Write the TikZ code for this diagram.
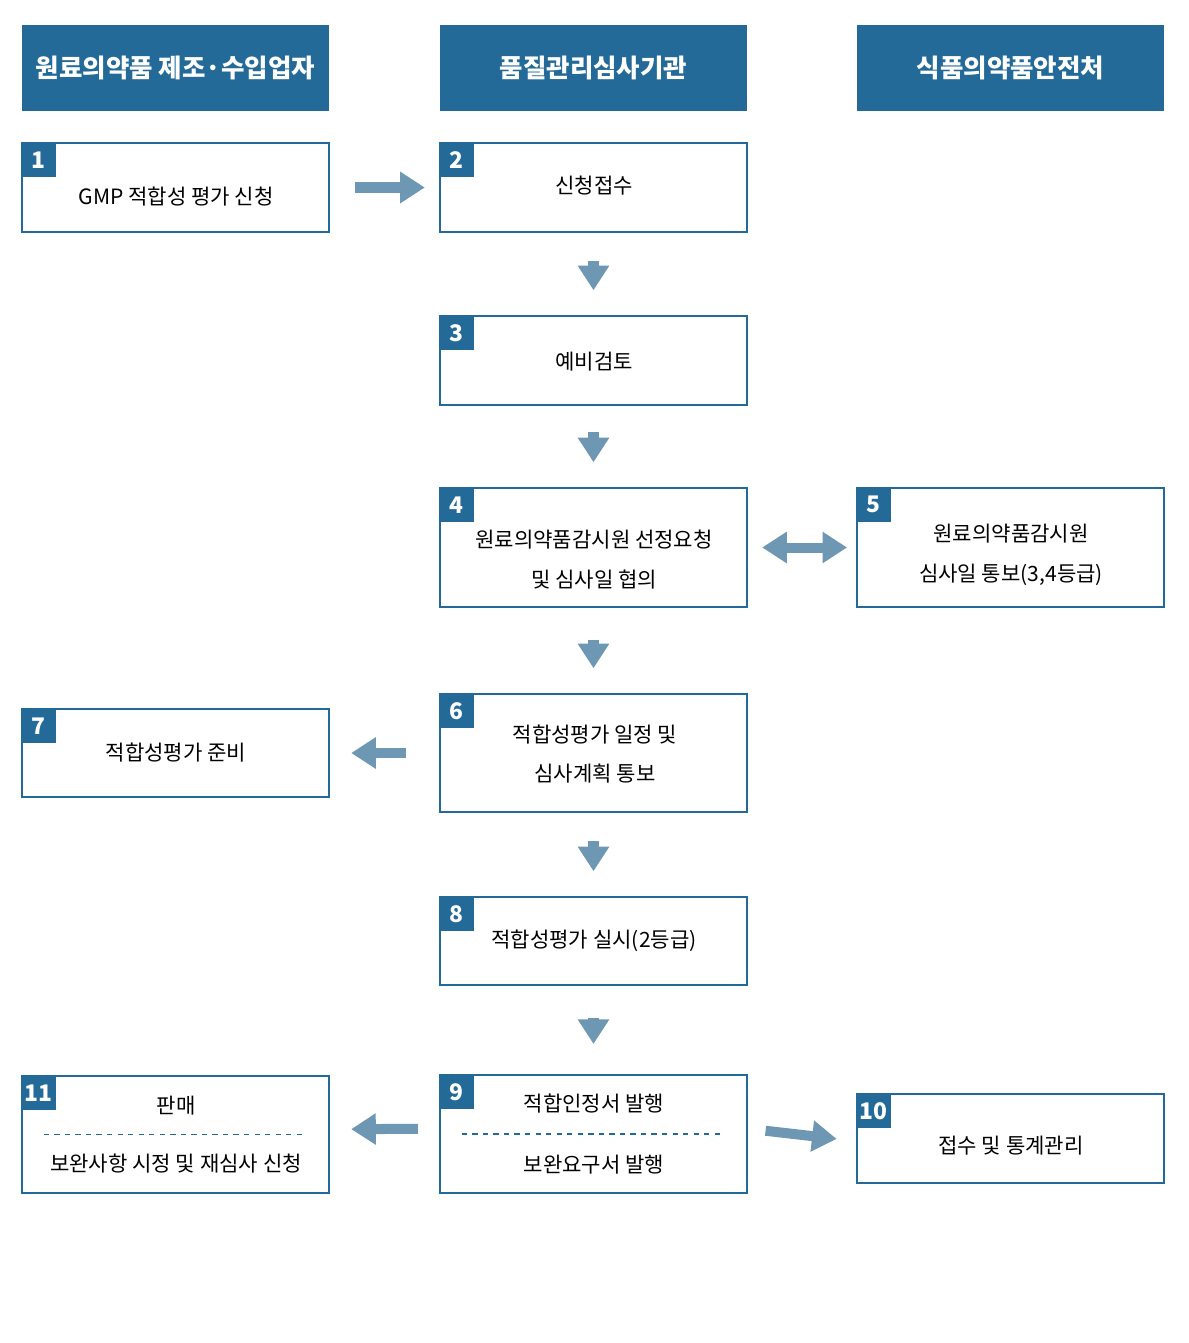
\documentclass[tikz,border=0pt]{standalone}
\usepackage{fontspec}
\setmainfont{Noto Sans CJK KR}
\usetikzlibrary{arrows.meta}
\definecolor{hdblue}{HTML}{236A98}
\definecolor{arblue}{HTML}{6D97B3}
\tikzset{
  head/.style={fill=hdblue, text=white, minimum width=6.14cm, minimum height=1.72cm, font=\bfseries\fontsize{14.5}{18}\selectfont},
  box/.style={draw=hdblue, line width=1.3pt, minimum width=6.14cm},
  tab/.style={fill=hdblue, text=white, minimum size=0.7cm, inner sep=0pt, anchor=north west, font=\bfseries\fontsize{13}{16}\selectfont},
  txt/.style={align=center, font=\fontsize{12}{22.7}\selectfont},
  arr/.style={draw=arblue, line width=5.7pt, -{Triangle[length=14pt,width=17pt]}},
  dsh/.style={draw=hdblue, dashed, line width=0.7pt}
}
\begin{document}
\begin{tikzpicture}[x=0.02cm, y=-0.02cm]
  \useasboundingbox (0,0) rectangle (1189,1343);

  % headers
  \node[head] (h1) at (175.5,68) {원료의약품 제조·수입업자};
  \node[head] (h2) at (593.5,68) {품질관리심사기관};
  \node[head] (h3) at (1010.5,68) {식품의약품안전처};

  % boxes
  \node[box, minimum height=1.78cm] (b1) at (175.5,187.5) {};
  \node[box, minimum height=1.78cm] (b2) at (593.5,187.5) {};
  \node[box, minimum height=1.78cm] (b3) at (593.5,360.5) {};
  \node[box, minimum height=2.38cm] (b4) at (593.5,547.5) {};
  \node[box, minimum height=2.38cm] (b5) at (1010.5,547.5) {};
  \node[box, minimum height=2.36cm] (b6) at (593.5,753) {};
  \node[box, minimum height=1.76cm] (b7) at (175.5,753) {};
  \node[box, minimum height=1.76cm] (b8) at (593.5,941) {};
  \node[box, minimum height=2.36cm] (b9) at (593.5,1134) {};
  \node[box, minimum height=1.78cm] (b10) at (1010.5,1138.5) {};
  \node[box, minimum height=2.34cm] (b11) at (175.5,1134.5) {};

  % number tabs
  \foreach \n in {1,...,11}
    \node[tab] (t\n) at (b\n.north west) {\n};

  % texts
  \node[txt] (l1) at (176,197) {GMP 적합성 평가 신청};
  \node[txt] (l2) at (594,186) {신청접수};
  \node[txt] (l3) at (594,362) {예비검토};
  \node[txt] (l4) at (594,560) {원료의약품감시원 선정요청\\및 심사일 협의};
  \node[txt] (l5) at (1011,555) {원료의약품감시원\\심사일 통보(3,4등급)};
  \node[txt] (l6) at (595,754) {적합성평가 일정 및\\심사계획 통보};
  \node[txt] (l7) at (176,753) {적합성평가 준비};
  \node[txt] (l8) at (594,941) {적합성평가 실시(2등급)};
  \node[txt] (l9a) at (594,1104) {적합인정서 발행};
  \node[txt] (l9b) at (594,1165) {보완요구서 발행};
  \node[txt] (l10) at (1011,1146) {접수 및 통계관리};
  \node[txt] (l11a) at (176,1106) {판매};
  \node[txt] (l11b) at (176,1164) {보완사항 시정 및 재심사 신청};

  \draw[dsh] ([xshift=13]b9.west) -- ([xshift=-13]b9.east);
  \draw[dsh] ([xshift=13]b11.west) -- ([xshift=-13]b11.east);

  % flow
  \draw[arr, shorten <=14, shorten >=8] (b1) -- (b2);
  \draw[arr, shorten <=16, shorten >=14] (b2) -- (b3);
  \draw[arr, shorten <=15, shorten >=14] (b3) -- (b4);
  \draw[arr, {Triangle[length=14pt,width=17pt]}-{Triangle[length=14pt,width=17pt]}, shorten <=8, shorten >=5] (b4) -- (b5);
  \draw[arr, shorten <=18, shorten >=14] (b4) -- (b6);
  \draw[arr, shorten <=19, shorten >=12] (b6) -- (b7);
  \draw[arr, shorten <=16, shorten >=14] (b6) -- (b8);
  \draw[arr, shorten <=18, shorten >=17] (b8) -- (b9);
  \draw[arr, shorten <=12, shorten >=12] ([yshift=3]b9.west) -- ([yshift=3]b11.east);
  \draw[arr, shorten <=10, shorten >=11] ([yshift=3]b9.east) -- ([yshift=-1.5]b10.west);
\end{tikzpicture}
\end{document}
